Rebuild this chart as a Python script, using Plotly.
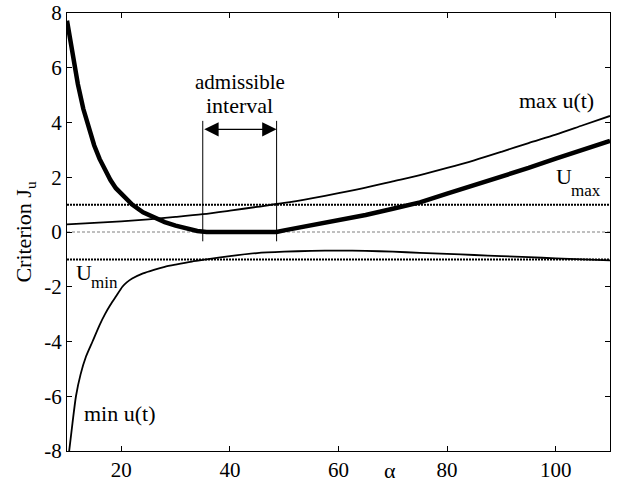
import plotly.graph_objects as go

# ---- data ----
alpha_max = [10, 15, 20, 25, 30, 35, 40, 45, 50, 55, 60, 65, 70, 75, 80, 85, 90, 95, 100, 105, 110]
max_u = [0.28, 0.33, 0.39, 0.46, 0.55, 0.65, 0.78, 0.92, 1.06, 1.23, 1.42, 1.62, 1.85, 2.08, 2.34, 2.62, 2.93, 3.25, 3.56, 3.90, 4.24]

alpha_min = [10.4, 11, 11.65, 12.5, 13.5, 14.7, 16, 17, 18, 19, 20.2, 21, 22, 24, 26, 28, 30, 33, 35.7,
             40, 45, 50, 55, 60, 65, 70, 75, 80, 85, 90, 95, 100, 105, 110]
min_u = [-8.0, -7.0, -6.0, -5.2, -4.55, -4.0, -3.4, -3.0, -2.66, -2.36, -2.0, -1.84, -1.70, -1.51,
         -1.38, -1.27, -1.19, -1.08, -1.0, -0.88, -0.77, -0.72, -0.69, -0.68, -0.69, -0.72, -0.76, -0.80,
         -0.84, -0.88, -0.92, -0.96, -1.0, -1.04]

alpha_j = [10, 11, 12, 13, 14, 15, 16, 17, 18, 19, 20, 21, 22, 24, 26, 28, 30, 32, 34, 35.7, 48.6,
           50, 55, 60, 65, 70, 75, 80, 85, 90, 95, 100, 105, 110]
crit_j = [7.72, 6.45, 5.4, 4.5, 3.78, 3.17, 2.67, 2.25, 1.9, 1.6, 1.38, 1.18, 1.0, 0.72, 0.52, 0.36, 0.23,
          0.12, 0.04, 0.0, 0.0, 0.06, 0.24, 0.42, 0.62, 0.85, 1.08, 1.40, 1.70, 2.01, 2.34, 2.68, 3.00, 3.33]

U_max = 1.0
U_min = -1.0
interval_lo = 35.0
interval_hi = 48.6

x_ticks = [20, 40, 60, 80, 100]
y_ticks = [-8, -6, -4, -2, 0, 2, 4, 6, 8]
y_ticklabels = ["-8", "-6", "-4", "-2", "0", "2", "4", "6", "8"]

FONT = "Liberation Serif"

fig = go.Figure()

# reference levels
fig.add_trace(go.Scatter(x=[10, 110], y=[0, 0], mode="lines",
                         line=dict(color="#aaaaaa", width=1.5, dash="3px,2px"), hoverinfo="skip"))
fig.add_trace(go.Scatter(x=[10, 110], y=[U_max, U_max], mode="lines",
                         line=dict(color="black", width=2, dash="2px,1px"), hoverinfo="skip"))
fig.add_trace(go.Scatter(x=[10, 110], y=[U_min, U_min], mode="lines",
                         line=dict(color="black", width=2, dash="2px,1px"), hoverinfo="skip"))

# curves
fig.add_trace(go.Scatter(x=alpha_max, y=max_u, mode="lines",
                         line=dict(color="black", width=1.8, shape="spline", smoothing=0.8)))
fig.add_trace(go.Scatter(x=alpha_min, y=min_u, mode="lines",
                         line=dict(color="black", width=1.8, shape="spline", smoothing=0.6)))
fig.add_trace(go.Scatter(x=alpha_j, y=crit_j, mode="lines",
                         line=dict(color="black", width=4.5, shape="linear")))

# interval markers
for xv in (interval_lo, interval_hi):
    fig.add_shape(type="line", x0=xv, x1=xv, y0=-0.34, y1=4.06, xref="x", yref="y",
                  line=dict(color="black", width=1))

fig.add_annotation(x=interval_hi, y=3.75, ax=interval_lo, ay=3.75, xref="x", yref="y",
                   axref="x", ayref="y", text="", showarrow=True, arrowhead=2, arrowside="end+start",
                   arrowsize=2.4, arrowwidth=1.2, arrowcolor="black", standoff=0, startstandoff=0)

ann_font = dict(family=FONT, size=22, color="black")
sub_font = dict(family=FONT, size=17, color="black")
fig.add_annotation(x=41.8, y=5.47, text="admissible", showarrow=False,
                   font=dict(family=FONT, size=21, color="black"), xref="x", yref="y")
fig.add_annotation(x=41.8, y=4.61, text="interval", showarrow=False, font=ann_font, xref="x", yref="y")
fig.add_annotation(x=107.4, y=4.82, text="max u(t)", showarrow=False, font=ann_font, xanchor="right", xref="x", yref="y")
fig.add_annotation(x=99.6, y=2.04, text="U", showarrow=False, font=ann_font, xanchor="left", xref="x", yref="y")
fig.add_annotation(x=102.5, y=1.5, text="max", showarrow=False, font=sub_font, xanchor="left", xref="x", yref="y")
fig.add_annotation(x=11.2, y=-1.47, text="U", showarrow=False, font=ann_font, xanchor="left", xref="x", yref="y")
fig.add_annotation(x=14.1, y=-1.85, text="min", showarrow=False, font=sub_font, xanchor="left", xref="x", yref="y")
fig.add_annotation(x=12.75, y=-6.63, text="min u(t)", showarrow=False, font=ann_font, xanchor="left", xref="x", yref="y")
fig.add_annotation(x=69.4, y=-0.0775, text="α", showarrow=False, font=ann_font, xref="x", yref="paper",
                   yanchor="bottom")

fig.update_layout(
    width=625, height=483,
    margin=dict(l=67, r=15, t=13, b=32, autoexpand=False),
    paper_bgcolor="white", plot_bgcolor="white",
    showlegend=False,
    font=dict(family=FONT, size=21, color="black"),
)
fig.update_xaxes(range=[10, 110], tickvals=x_ticks, ticks="inside", ticklen=5, tickcolor="black",
                 showline=True, linecolor="black", linewidth=1, mirror="ticks", showgrid=False, zeroline=False,
                 tickfont=dict(family=FONT, size=21), automargin=False)
fig.update_yaxes(range=[-8, 8], tickvals=y_ticks, ticktext=y_ticklabels, ticks="inside", ticklen=5,
                 tickcolor="black", showline=True, linecolor="black", linewidth=1, mirror="ticks",
                 showgrid=False, zeroline=False, tickfont=dict(family=FONT, size=21), automargin=False,
                 title=dict(text="Criterion J<sub>u</sub>", font=dict(family=FONT, size=22), standoff=6))

fig.write_html("out.html", config={"displayModeBar": False},
               post_script="document.body.style.margin='0';")
